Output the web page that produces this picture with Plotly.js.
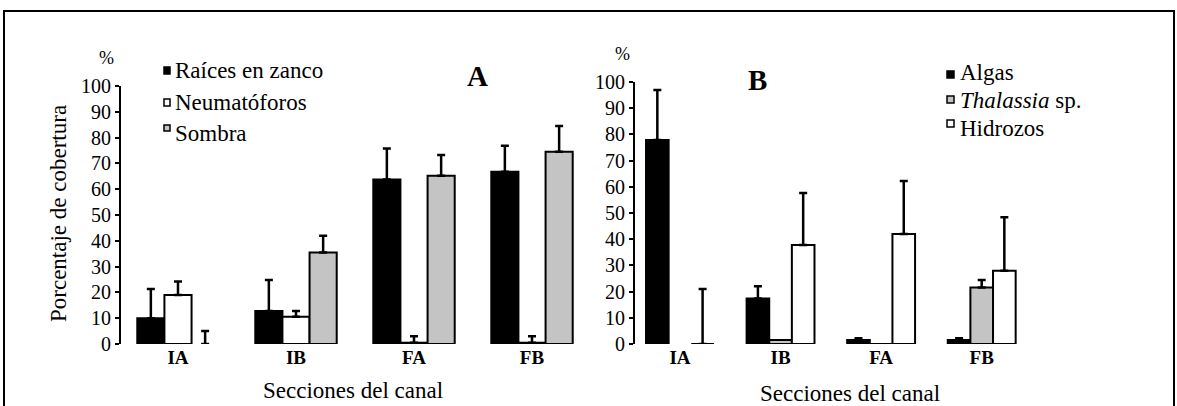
<!DOCTYPE html>
<html><head><meta charset="utf-8">
<script src="https://cdn.plot.ly/plotly-3.0.1.min.js"></script>
<style>html,body{margin:0;padding:0;background:#fff}#chart{width:1177px;height:406px}</style>
</head><body><div id="chart"></div>
<script>
// ---- data ----
const sections = ['IA', 'IB', 'FA', 'FB'];

const seriesA = ['Raíces en zanco', 'Neumatóforos', 'Sombra'];
const raices = [10, 12.8, 63.8, 66.8];
const raicesErr = [11.3, 12, 12, 10];
const neumato = [19, 10.6, 0.5, 0.5];
const neumatoErr = [5.2, 2.2, 2.5, 2.5];
const sombra = [0, 35.5, 65.2, 74.5];
const sombraErr = [5, 6.5, 8.1, 10];

const seriesB = ['Algas', '<i>Thalassia</i> sp.', 'Hidrozos'];
const algas = [77.9, 17.4, 1.5, 1.5];
const algasErr = [19, 4.6, 0.7, 0.7];
const thalassia = [0, 1.5, 0, 21.6];
const thalassiaErr = [null, null, null, 2.8];
const hidrozos = [0, 37.8, 42, 28];
const hidrozosErr = [21, 19.8, 20.2, 20.4];

const panelLabels = ['A', 'B'];
const yTitle = 'Porcentaje de cobertura';
const xTitle = 'Secciones del canal';
const unitLabel = '%';

// ---- style ----
const W = 1177, H = 406;
const px = x => x / W, py = y => 1 - y / H;
const FONT = 'Liberation Serif';
const BLACK = '#000000', WHITE = '#ffffff', GRAY = '#c4c4c4';

function barTrace(name, ys, errs, color, lineW, xa, ya, offset, width) {
  return {
    type: 'bar', name: name, x: sections, y: ys, xaxis: xa, yaxis: ya,
    offset: offset, width: width,
    marker: {color: color, line: {color: BLACK, width: lineW}},
    error_y: {
      type: 'data', symmetric: false, visible: true,
      array: errs.map(e => e === null ? undefined : e),
      arrayminus: errs.map(e => e === null ? undefined : 0),
      color: BLACK, thickness: 2.5, width: 4
    },
    showlegend: false, hoverinfo: 'skip'
  };
}

const wA = 0.23, wB = 0.225;
const data = [
  barTrace(seriesA[0], raices, raicesErr, BLACK, 2, 'x', 'y', -1.5 * wA, wA),
  barTrace(seriesA[1], neumato, neumatoErr, WHITE, 2, 'x', 'y', -0.5 * wA, wA),
  barTrace(seriesA[2], sombra, sombraErr, GRAY, [0, 2, 2, 2], 'x', 'y', 0.5 * wA, wA),
  barTrace(seriesB[0], algas, algasErr, BLACK, 2, 'x2', 'y2', -1.5 * wB, wB),
  barTrace(seriesB[1], thalassia, thalassiaErr, GRAY, [0, 2, 2, 2], 'x2', 'y2', -0.5 * wB, wB),
  barTrace(seriesB[2], hidrozos, hidrozosErr, WHITE, 2, 'x2', 'y2', 0.5 * wB, wB)
];

const xaxisBase = {
  type: 'category', showline: false, showgrid: false, zeroline: false,
  ticks: '', fixedrange: true,
  tickfont: {family: FONT, size: 19, color: BLACK, weight: 'bold'}
};
const yaxisBase = {
  range: [0, 100], dtick: 10, tick0: 0, showline: true, linecolor: BLACK, linewidth: 2,
  ticks: 'outside', ticklen: 4, tickwidth: 2, tickcolor: BLACK,
  showgrid: false, zeroline: false, fixedrange: true,
  tickfont: {family: FONT, size: 20, color: BLACK}
};

const legendShapes = [];
const annotations = [];
function txt(text, x, y, size, opts) {
  annotations.push(Object.assign({
    text: text, xref: 'paper', yref: 'paper', x: px(x), y: py(y),
    xanchor: 'center', yanchor: 'middle', showarrow: false,
    font: {family: FONT, size: size, color: BLACK}
  }, opts || {}));
}
function sq(x0, y0, x1, y1, fill) {
  legendShapes.push({type: 'rect', xref: 'paper', yref: 'paper',
    x0: px(x0), x1: px(x1), y0: py(y1), y1: py(y0),
    fillcolor: fill, line: {color: BLACK, width: 1.5}});
}

// legend A
const legAFill = [BLACK, WHITE, GRAY];
const legARows = [[67, 74], [99, 106], [125, 131]];
const legATextY = [70, 102, 133];
seriesA.forEach((s, i) => {
  sq(164, legARows[i][0], 170, legARows[i][1], legAFill[i]);
  txt(s, 173, legATextY[i], 23, {xanchor: 'left'});
});
// legend B
const legBFill = [BLACK, GRAY, WHITE];
const legBRows = [[71, 78], [96, 103], [120, 127]];
const legBTextY = [72, 100, 128];
seriesB.forEach((s, i) => {
  sq(947, legBRows[i][0], 954, legBRows[i][1], legBFill[i]);
  txt(s, 958, legBTextY[i], 23, {xanchor: 'left'});
});

// panel letters, units, titles
txt('<b>' + panelLabels[0] + '</b>', 477, 76, 29);
txt('<b>' + panelLabels[1] + '</b>', 757, 80, 29);
txt(unitLabel, 106, 58, 18);
txt(unitLabel, 622, 54, 18);
txt(xTitle, 353, 390, 23);
txt(xTitle, 850, 393, 23);
txt(yTitle, 58, 214, 23, {textangle: -90});

// outer frame
legendShapes.push({type: 'rect', xref: 'paper', yref: 'paper',
  x0: px(4), x1: px(1174), y0: py(420), y1: py(11),
  fillcolor: 'rgba(0,0,0,0)', line: {color: BLACK, width: 2}});

const layout = {
  width: W, height: H, margin: {l: 0, r: 0, t: 0, b: 0},
  paper_bgcolor: WHITE, plot_bgcolor: 'rgba(0,0,0,0)',
  barmode: 'overlay', showlegend: false,
  xaxis: Object.assign({}, xaxisBase, {domain: [px(121), px(591)], range: [-0.483, 3.5], anchor: 'y'}),
  yaxis: Object.assign({}, yaxisBase, {domain: [py(344), py(86)], anchor: 'x'}),
  xaxis2: Object.assign({}, xaxisBase, {domain: [px(635), px(1032)], range: [-0.447, 3.5], anchor: 'y2'}),
  yaxis2: Object.assign({}, yaxisBase, {domain: [py(344), py(82)], anchor: 'x2'}),
  shapes: legendShapes,
  annotations: annotations,
  font: {family: FONT, color: BLACK}
};

Plotly.newPlot('chart', data, layout, {staticPlot: true, displayModeBar: false});
</script>
</body></html>
